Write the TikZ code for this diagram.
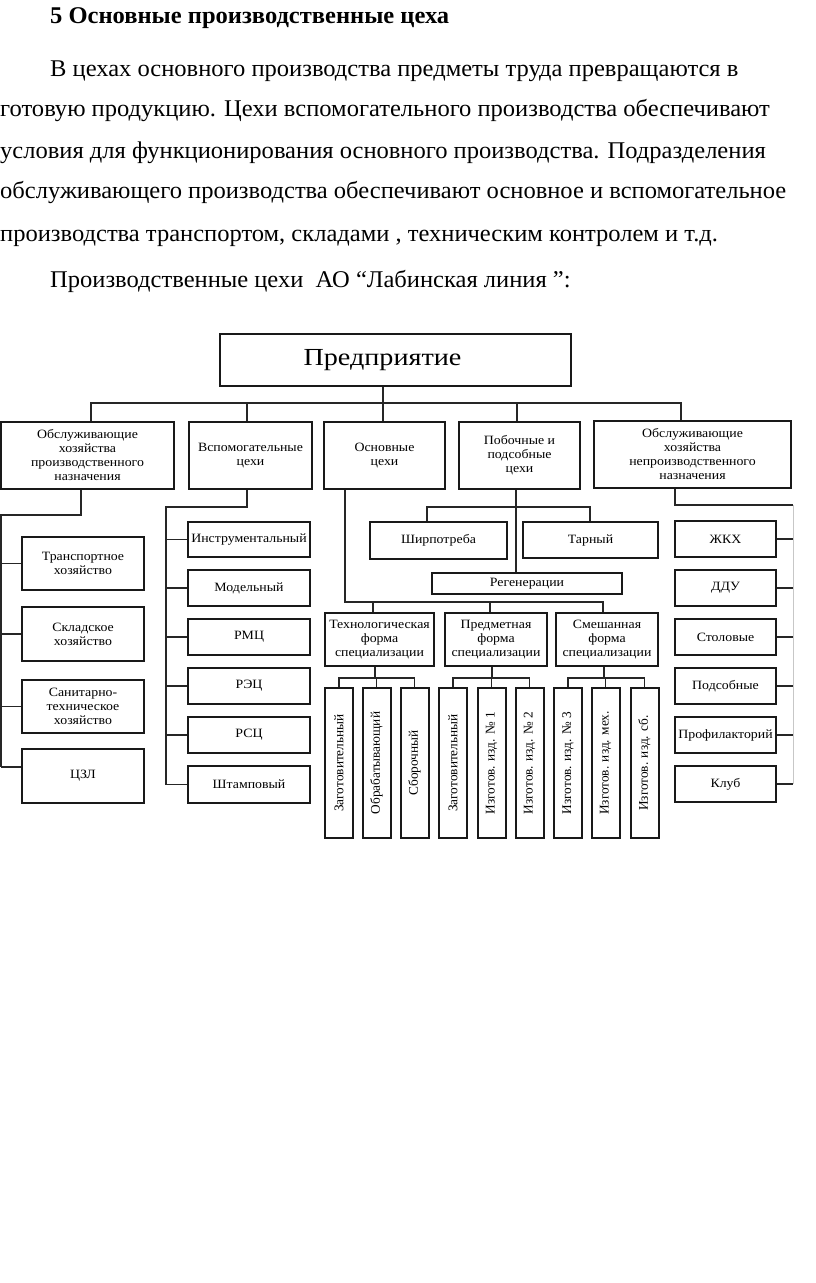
\documentclass[tikz,border=0pt]{standalone}
\usepackage{fontspec}
\setmainfont[FakeStretch=1.022]{Liberation Serif}
\newfontfamily\dfont[FakeStretch=1.09]{Liberation Serif}
\newfontfamily\bigfont[FakeStretch=1.15]{Liberation Serif}
\newfontfamily\vfont{Liberation Serif}
\newcommand\mybox[7][]{\node[box,#1, minimum width={#4-#2}, minimum height={#5-#3}] (#6) at ({(#2+#4)/2},{(#3+#5)/2}) {#7};}
\begin{document}
\begin{tikzpicture}[x=1pt,y=-1pt,
  box/.style={draw=black!90, line width=2pt, inner sep=0pt, align=center, font=\dfont\fontsize{12.7}{14}\selectfont},
  vbox/.style={draw=black!90, line width=2pt, inner sep=0pt, rotate=90, minimum width=150, minimum height=28, font=\vfont\fontsize{13.3}{15}\selectfont},
  conn/.style={line width=1.4pt, draw=black!85},
  faint/.style={line width=0.9pt, draw=black!22},
  txt/.style={anchor=base west, inner sep=0pt, font=\fontsize{24}{28}\selectfont}]
\useasboundingbox[fill=white] (0,0) rectangle (816,1283);

% ---- text ----
\node[txt, font=\bfseries\fontsize{24}{28}\selectfont] (title) at (50,23) {5 Основные производственные цеха};
\node[txt] (l1) at (50,76) {В цехах основного производства предметы труда превращаются в};
\node[txt] (l2) at (0,116) {готовую продукцию. Цехи вспомогательного производства обеспечивают};
\node[txt] (l3) at (0,158) {условия для функционирования основного производства. Подразделения};
\node[txt] (l4) at (0,198) {обслуживающего производства обеспечивают основное и вспомогательное};
\node[txt] (l5) at (0,241) {производства транспортом, складами , техническим контролем и т.д.};
\node[txt] (l6) at (50,287) {Производственные цехи\ \ АО “Лабинская линия ”:};

% ---- top ----
\mybox[font=\bigfont\fontsize{24.5}{27}\selectfont]{220}{334}{571}{386}{top}{Предприятие\hspace*{26pt}}
\mybox{1}{422}{174}{489}{b1}{Обслуживающие\\хозяйства\\производственного\\назначения}
\mybox{189}{422}{312}{489}{b2}{Вспомогательные\\цехи}
\mybox{324}{422}{445}{489}{b3}{Основные\\цехи}
\mybox{459}{422}{580}{489}{b4}{Побочные и\\подсобные\\цехи}
\mybox{594}{421}{791}{488}{b5}{Обслуживающие\\хозяйства\\непроизводственного\\назначения}

% left
\mybox{22}{537}{144}{590}{lb1}{Транспортное\\хозяйство}
\mybox{22}{607}{144}{661}{lb2}{Складское\\хозяйство}
\mybox{22}{680}{144}{733}{lb3}{Санитарно-\\техническое\\хозяйство}
\mybox{22}{749}{144}{803}{lb4}{ЦЗЛ}

% auxiliary
\mybox{188}{522}{310}{557}{vb1}{Инструментальный}
\mybox{188}{570}{310}{606}{vb2}{Модельный}
\mybox{188}{619}{310}{655}{vb3}{РМЦ}
\mybox{188}{668}{310}{704}{vb4}{РЭЦ}
\mybox{188}{717}{310}{753}{vb5}{РСЦ}
\mybox{188}{766}{310}{803}{vb6}{Штамповый}

% side shops
\mybox{370}{522}{507}{559}{shir}{Ширпотреба}
\mybox{523}{522}{658}{558}{tar}{Тарный}
\mybox{432}{573}{622}{594}{reg}{Регенерации}

% forms
\mybox{325}{613}{434}{666}{f1}{Технологическая\\форма\\специализации}
\mybox{445}{613}{547}{666}{f2}{Предметная\\форма\\специализации}
\mybox{556}{613}{658}{666}{f3}{Смешанная\\форма\\специализации}

% vertical shops
\node[vbox] (z1) at (339,763) {Заготовительный};
\node[vbox] (z2) at (376.5,763) {Обрабатывающий};
\node[vbox] (z3) at (414.5,763) {Сборочный};
\node[vbox] (z4) at (453,763) {Заготовительный};
\node[vbox] (z5) at (491.5,763) {Изготов. изд. № 1};
\node[vbox] (z6) at (529.5,763) {Изготов. изд. № 2};
\node[vbox] (z7) at (568,763) {Изготов. изд. № 3};
\node[vbox] (z8) at (605.5,763) {Изготов. изд. мех.};
\node[vbox] (z9) at (644.5,763) {Изготов. изд. сб.};

% right
\mybox{675}{521}{776}{557}{rb1}{ЖКХ}
\mybox{675}{570}{776}{606}{rb2}{ДДУ}
\mybox{675}{619}{776}{655}{rb3}{Столовые}
\mybox{675}{668}{776}{704}{rb4}{Подсобные}
\mybox{675}{717}{776}{753}{rb5}{Профилакторий}
\mybox{675}{766}{776}{802}{rb6}{Клуб}

% ---- connectors ----
\coordinate (bus1) at (91,403);
\coordinate (bus2) at (247,403);
\coordinate (bus3) at (383,403);
\coordinate (bus4) at (517,403);
\coordinate (bus5) at (681,403);
\draw[conn] (top.south -| bus3) -- (b3.north -| bus3);
\draw[conn] (b1.north -| bus1) -- (bus1) -- (bus5) -- (b5.north -| bus5);
\draw[conn] (bus2) -- (b2.north -| bus2);
\draw[conn] (bus4) -- (b4.north -| bus4);

% left group
\coordinate (lt) at (81,515);
\coordinate (lbus) at (1,515);
\coordinate (lz) at ([yshift=9pt]lb4.west);
\draw[conn] (b1.south -| lt) -- (lt) -- (lbus) -- (lbus |- lz);
\foreach \n in {lb1,lb2,lb3} \draw[conn] (\n.west) -- (\n.west -| lbus);
\draw[conn] (lz) -- (lz -| lbus);

% auxiliary group
\coordinate (va) at (247,507);
\coordinate (vbus) at (166,507);
\draw[conn] (b2.south -| va) -- (va) -- (vbus) -- (vbus |- vb6.west);
\foreach \n in {vb1,vb2,vb3,vb4,vb5,vb6} \draw[conn] (\n.west) -- (\n.west -| vbus);

% main group
\coordinate (oa) at (345,602);
\coordinate (s1) at (373,602);
\coordinate (s2) at (490,602);
\coordinate (s3) at (603,602);
\draw[conn] (b3.south -| oa) -- (oa) -- (s3) -- (f3.north -| s3);
\draw[conn] (s1) -- (f1.north -| s1);
\draw[conn] (s2) -- (f2.north -| s2);

% side group
\coordinate (pc) at (516,507);
\coordinate (p1) at (427,507);
\coordinate (p2) at (590,507);
\draw[conn] (b4.south -| pc) -- (reg.north -| pc);
\draw[conn] (shir.north -| p1) -- (p1) -- (p2) -- (tar.north -| p2);

% forms to shops
\coordinate (t1) at (375,678);
\coordinate (t2) at (492,678);
\coordinate (t3) at (604,678);
\draw[conn] (f1.south -| t1) -- (t1);
\draw[conn] (z1.east) |- (t1) -| (z3.east);
\draw[conn] (z2.east) -- (z2.east |- t1);
\draw[conn] (f2.south -| t2) -- (t2);
\draw[conn] (z4.east) |- (t2) -| (z6.east);
\draw[conn] (z5.east) -- (z5.east |- t2);
\draw[conn] (f3.south -| t3) -- (t3);
\draw[conn] (z7.east) |- (t3) -| (z9.east);
\draw[conn] (z8.east) -- (z8.east |- t3);

% right group
\coordinate (ra) at (675,505);
\coordinate (rbus) at (793,505);
\draw[conn] (b5.south -| ra) -- (ra) -- (rbus);
\draw[faint] (rbus) -- (rbus |- rb6.east);
\foreach \n in {rb1,rb2,rb3,rb4,rb5,rb6} \draw[conn] (\n.east) -- (\n.east -| rbus);
\end{tikzpicture}
\end{document}
